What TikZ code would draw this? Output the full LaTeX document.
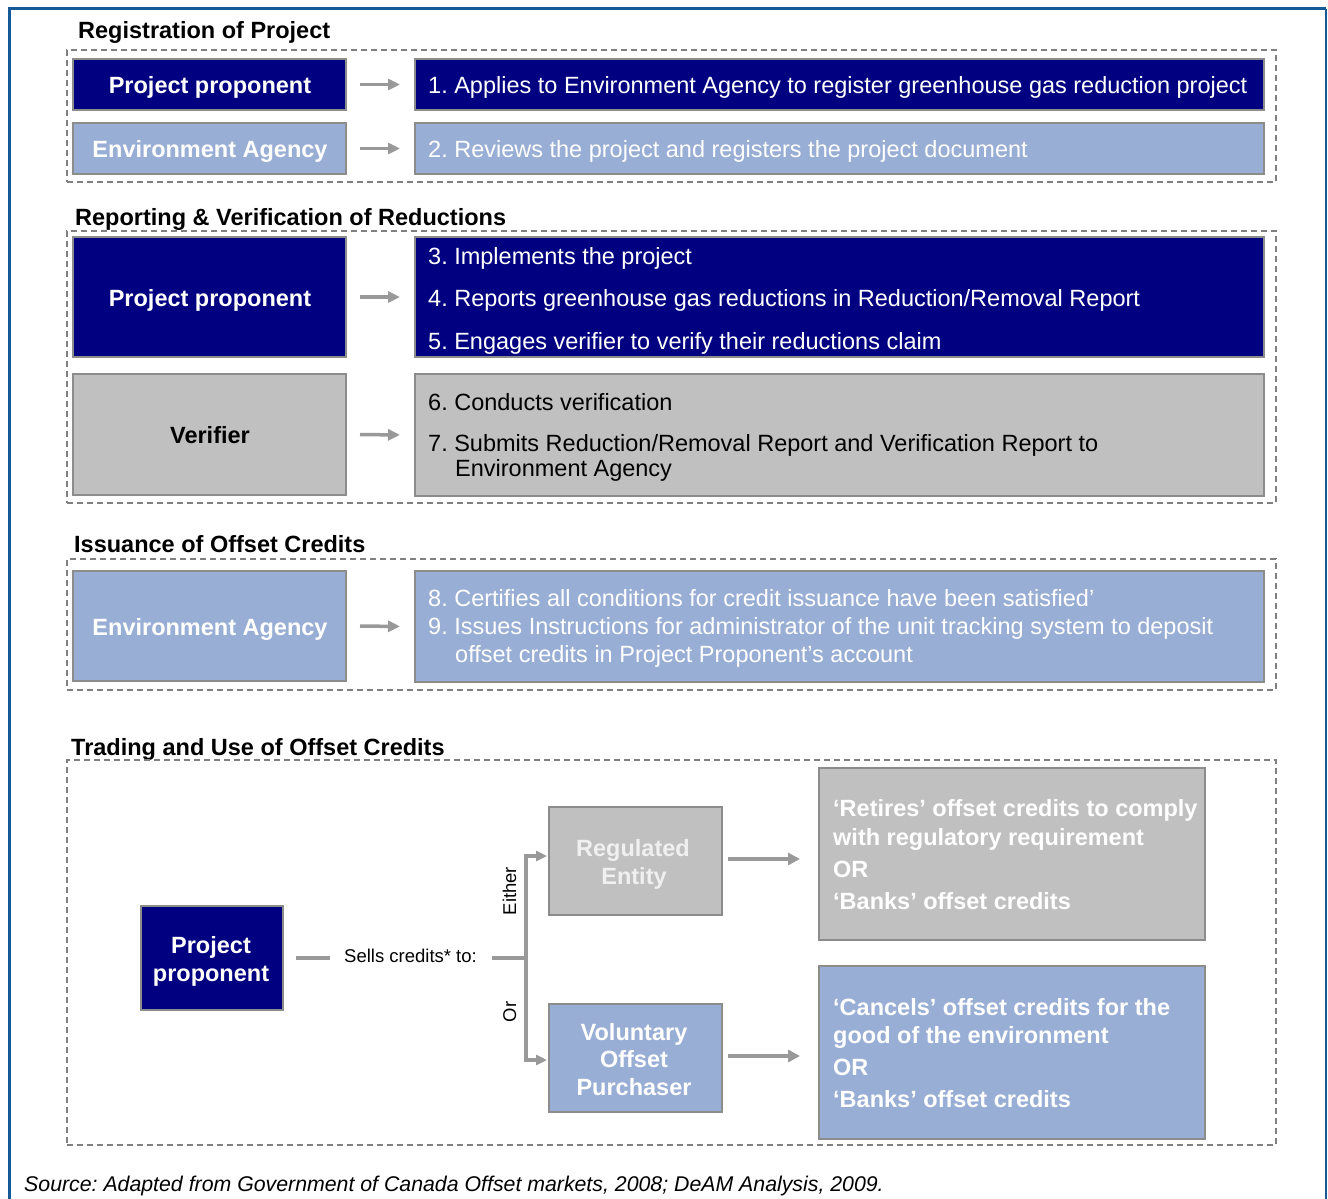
\documentclass[tikz,border=0pt]{standalone}
\usepackage{fontspec}
\setmainfont{Liberation Sans}
\usetikzlibrary{arrows.meta}
\frenchspacing
\definecolor{navy}{RGB}{0,0,128}
\definecolor{lblue}{RGB}{153,174,213}
\definecolor{lgray}{RGB}{192,192,192}
\definecolor{bord}{RGB}{140,140,140}
\definecolor{arrg}{RGB}{153,153,153}
\definecolor{dashg}{RGB}{128,128,128}
\definecolor{framec}{RGB}{21,90,150}
\definecolor{paletxt}{RGB}{240,240,240}
\tikzset{
  box/.style={draw=bord, line width=1.5pt, anchor=north west, inner sep=0pt, outer sep=0pt},
  dbox/.style={draw=dashg, line width=1.8pt, dash pattern=on 6pt off 4pt, anchor=north west, inner sep=0pt, outer sep=0pt},
  lbl/.style={font=\fontsize{23.5}{28}\selectfont\bfseries, inner sep=0pt, anchor=base},
  itm/.style={font=\fontsize{23.5}{28}\selectfont, inner sep=0pt, anchor=base west},
  btxt/.style={font=\fontsize{23.5}{28}\selectfont\bfseries, inner sep=0pt, anchor=base west, text=white},
  ttl/.style={font=\fontsize{23.5}{28}\selectfont\bfseries, inner sep=0pt, anchor=base west},
  small/.style={font=\fontsize{18.5}{22}\selectfont, inner sep=0pt},
  arr/.style={draw=arrg, line width=3.5pt, -{Triangle[length=12pt,width=11pt]}, shorten <=14pt, shorten >=15pt},
  arrb/.style={draw=arrg, line width=4pt, -{Triangle[length=12pt,width=12pt]}},
  ln/.style={draw=arrg, line width=3.5pt}
}
\begin{document}
\begin{tikzpicture}[x=1pt,y=-1pt]
\useasboundingbox (0,0) rectangle (1328,1199);
% outer frame
\draw[framec, line width=3pt] (9,1199) -- (9,9) -- (1326,9);
\draw[framec, line width=2pt] (1326,9) -- (1326,1199);

% ---------- Section 1
\node[ttl] (t1) at (78,39) {Registration of Project};
\node[dbox, minimum width=1209pt, minimum height=132pt] (g1) at (67,50) {};
\node[box, fill=navy, minimum width=273pt, minimum height=51pt] (pp1) at (73,59) {};
\node[box, fill=navy, minimum width=849pt, minimum height=51pt] (r1) at (415,59) {};
\node[box, fill=lblue, minimum width=273pt, minimum height=51pt] (ea1) at (73,123) {};
\node[box, fill=lblue, minimum width=849pt, minimum height=51pt] (r2) at (415,123) {};
\node[lbl, text=white] (pp1t) at (210,93) {Project proponent};
\node[lbl, text=white] (ea1t) at (210,157) {Environment Agency};
\node[itm, text=white] (r1t) at (428,93) {1. Applies to Environment Agency to register greenhouse gas reduction project};
\node[itm, text=white] (r2t) at (428,157) {2. Reviews the project and registers the project document};
\draw[arr] (pp1.east) -- (r1.west);
\draw[arr] (ea1.east) -- (r2.west);

% ---------- Section 2
\node[ttl] (t2) at (75,225) {Reporting \& Verification of Reductions};
\node[dbox, minimum width=1209pt, minimum height=272pt] (g2) at (67,231) {};
\node[box, fill=navy, minimum width=273pt, minimum height=120pt] (pp2) at (73,237) {};
\node[box, fill=navy, minimum width=849pt, minimum height=120pt] (r3) at (415,237) {};
\node[box, fill=lgray, minimum width=273pt, minimum height=121pt] (ver) at (73,374) {};
\node[box, fill=lgray, minimum width=849pt, minimum height=122pt] (r4) at (415,374) {};
\node[lbl, text=white] (pp2t) at (210,306) {Project proponent};
\node[lbl, text=black] (vert) at (210,443) {Verifier};
\node[itm, text=white] (r3a) at (428,264) {3. Implements the project};
\node[itm, text=white] (r3b) at (428,306) {4. Reports greenhouse gas reductions in Reduction/Removal Report};
\node[itm, text=white] (r3c) at (428,349) {5. Engages verifier to verify their reductions claim};
\node[itm] (r4a) at (428,410) {6. Conducts verification};
\node[itm] (r4b) at (428,451) {7. Submits Reduction/Removal Report and Verification Report to};
\node[itm] (r4c) at (455,476) {Environment Agency};
\draw[arr] (pp2.east) -- (r3.west);
\draw[arr] (ver.east) -- (r4.west);

% ---------- Section 3
\node[ttl] (t3) at (74,552) {Issuance of Offset Credits};
\node[dbox, minimum width=1209pt, minimum height=131pt] (g3) at (67,559) {};
\node[box, fill=lblue, minimum width=273pt, minimum height=110pt] (ea2) at (73,571) {};
\node[box, fill=lblue, minimum width=849pt, minimum height=111pt] (r5) at (415,571) {};
\node[lbl, text=white] (ea2t) at (210,635) {Environment Agency};
\node[itm, text=white] (r5a) at (428,606) {8. Certifies all conditions for credit issuance have been satisfied’};
\node[itm, text=white] (r5b) at (428,634) {9. Issues Instructions for administrator of the unit tracking system to deposit};
\node[itm, text=white] (r5c) at (455,662) {offset credits in Project Proponent’s account};
\draw[arr] (ea2.east) -- (r5.west);

% ---------- Section 4
\node[ttl] (t4) at (71,755) {Trading and Use of Offset Credits};
\node[dbox, minimum width=1209pt, minimum height=385pt] (g4) at (67,760) {};
\node[box, fill=navy, minimum width=142pt, minimum height=104pt] (pp3) at (141,906) {};
\node[box, fill=lgray, minimum width=173pt, minimum height=108pt] (reg) at (549,807) {};
\node[box, fill=lblue, minimum width=173pt, minimum height=108pt] (vol) at (549,1004) {};
\node[box, fill=lgray, minimum width=386pt, minimum height=172pt] (ret) at (819,768) {};
\node[box, fill=lblue, minimum width=386pt, minimum height=173pt] (can) at (819,966) {};

\node[lbl, text=white] (pp3a) at (211,953) {Project};
\node[lbl, text=white] (pp3b) at (211,981) {proponent};
\node[lbl, text=paletxt] (rega) at (633,856) {Regulated};
\node[lbl, text=paletxt] (regb) at (634,884) {Entity};
\node[lbl, text=white] (vola) at (634,1040) {Voluntary};
\node[lbl, text=white] (volb) at (634,1067) {Offset};
\node[lbl, text=white] (volc) at (634,1095) {Purchaser};

\node[btxt] (reta) at (833,816) {‘Retires’ offset credits to comply};
\node[btxt] (retb) at (833,845) {with regulatory requirement};
\node[btxt] (retc) at (833,877) {OR};
\node[btxt] (retd) at (833,909) {‘Banks’ offset credits};
\node[btxt] (cana) at (833,1015) {‘Cancels’ offset credits for the};
\node[btxt] (canb) at (833,1043) {good of the environment};
\node[btxt] (canc) at (833,1075) {OR};
\node[btxt] (cand) at (833,1107) {‘Banks’ offset credits};

\node[small, anchor=base west] (sells) at (344,962) {Sells credits* to:};
\coordinate (split) at (526,958);
\node[small, anchor=base, rotate=90] (either) at (516,891) {Either};
\node[small, anchor=base, rotate=90] (orl) at (516,1012) {Or};

\draw[ln, shorten <=13pt, shorten >=14pt] (pp3.east) -- (pp3.east -| sells.west);
\draw[ln, shorten <=15pt] (sells.east |- split) -- (split);
\draw[draw=arrg, line width=3.5pt, -{Triangle[length=11pt,width=10pt]}, shorten >=2pt]
  (split) |- ([yshift=5pt]reg.west);
\draw[draw=arrg, line width=3.5pt, -{Triangle[length=11pt,width=10pt]}, shorten >=2pt]
  (split) |- ([yshift=-2pt]vol.west);
\draw[arrb, shorten <=6pt, shorten >=19pt] ([yshift=2pt]reg.east) -- ([yshift=2pt]reg.east -| ret.west);
\draw[arrb, shorten <=6pt, shorten >=19pt] ([yshift=2pt]vol.east) -- ([yshift=2pt]vol.east -| can.west);

% source
\node[font=\fontsize{21.3}{25}\selectfont\itshape, inner sep=0pt, anchor=base west] (src) at (24,1191)
  {Source: Adapted from Government of Canada Offset markets, 2008; DeAM Analysis, 2009.};
\end{tikzpicture}
\end{document}
